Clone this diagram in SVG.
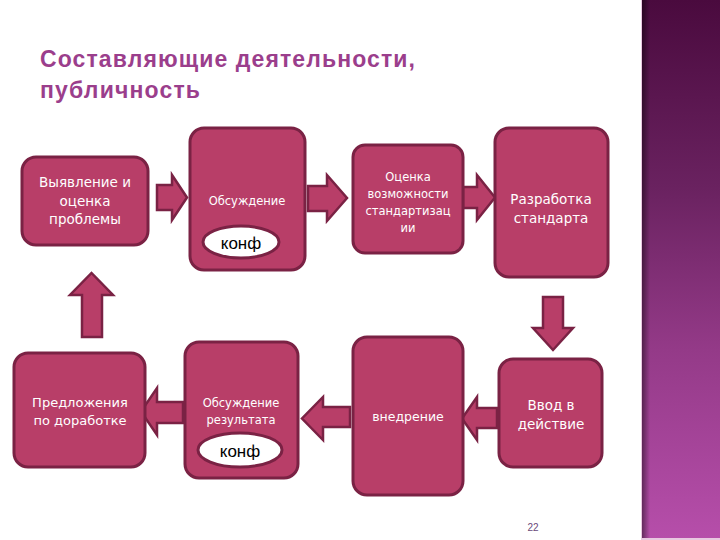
<svg xmlns="http://www.w3.org/2000/svg" width="720" height="540" viewBox="0 0 720 540">
<defs>
<linearGradient id="bar" x1="0" y1="0" x2="0" y2="1">
<stop offset="0" stop-color="#4a0a3e"/>
<stop offset="0.35" stop-color="#6a2260"/>
<stop offset="0.65" stop-color="#943a88"/>
<stop offset="1" stop-color="#b64eaa"/>
</linearGradient>
<linearGradient id="shadow" x1="0" y1="0" x2="1" y2="0">
<stop offset="0" stop-color="#000" stop-opacity="0.45"/>
<stop offset="1" stop-color="#000" stop-opacity="0"/>
</linearGradient>
<style>
.box{fill:#b83e68;stroke:#7a2244;stroke-width:3}
.arr{fill:#b83e68;stroke:#7a2244;stroke-width:2.5;stroke-linejoin:miter}
.ell{fill:#ffffff;stroke:#7a2244;stroke-width:3}
.t{font-family:"DejaVu Sans","Noto Sans",sans-serif;font-weight:normal;fill:#ffffff;text-anchor:middle}
.k{font-family:"Liberation Sans",Arial,sans-serif;font-weight:normal;fill:#000000;text-anchor:middle;font-size:17px}
.title{font-family:"Liberation Sans",Arial,sans-serif;font-weight:bold;fill:#9b3e8c;font-size:23px}
</style>
</defs>
<rect x="0" y="0" width="720" height="540" fill="#ffffff"/>
<rect x="641" y="0" width="79" height="540" fill="#e8c8e0"/>
<rect x="642" y="0" width="78" height="538" fill="url(#bar)"/>
<rect x="642" y="0" width="8" height="538" fill="url(#shadow)"/>

<g id="title">
<text class="title" x="40" y="67" textLength="375" lengthAdjust="spacing">Составляющие деятельности,</text>
<text class="title" x="40" y="98" textLength="160" lengthAdjust="spacing">публичность</text>
</g>

<g id="connectors">
<polygon class="arr" points="157,185 172,185 172,175 187,197.5 172,220 172,210 157,210"/>
<polygon class="arr" points="308,186 327,186 327,175 347,198 327,221 327,211 308,211"/>
<polygon class="arr" points="463,187 477,187 477,175 495,197.5 477,220 477,208 463,208"/>
<polygon class="arr" points="543,297 563,297 563,328 573,328 553,350 533,328 543,328"/>
<polygon class="arr" points="497,408 477,408 477,397 462,418.5 477,440 477,428 497,428"/>
<polygon class="arr" points="350,407 323,407 323,397 302,418.5 323,440 323,427 350,427"/>
<polygon class="arr" points="183,402 157,402 157,388 141,411.5 157,435 157,423 183,423"/>
<polygon class="arr" points="82,337 82,295 70,295 91.5,273 113,295 102,295 102,337"/>
</g>

<g id="n1">
<rect class="box" x="22" y="157" width="126" height="88" rx="14"/>
<text class="t" font-size="13.5" font-weight="bold"><tspan x="85" y="187">Выявление и</tspan><tspan x="85" y="206">оценка</tspan><tspan x="85" y="224">проблемы</tspan></text>
</g>
<g id="n2">
<rect class="box" x="190" y="128" width="115" height="142" rx="14"/>
<text class="t" font-size="11.5" x="247" y="205">Обсуждение</text>
<ellipse class="ell" cx="241" cy="242" rx="38" ry="16"/>
<text class="k" x="241" y="249">конф</text>
</g>
<g id="n3">
<rect class="box" x="353" y="145" width="110" height="108" rx="12"/>
<text class="t" font-size="11.5"><tspan x="408" y="181">Оценка</tspan><tspan x="408" y="198">возможности</tspan><tspan x="408" y="215">стандартизац</tspan><tspan x="408" y="232">ии</tspan></text>
</g>
<g id="n4">
<rect class="box" x="495" y="128" width="113" height="149" rx="14"/>
<text class="t" font-size="13.5"><tspan x="551" y="204">Разработка</tspan><tspan x="551" y="223">стандарта</tspan></text>
</g>
<g id="n5">
<rect class="box" x="499" y="359" width="103" height="108" rx="14"/>
<text class="t" font-size="13.5"><tspan x="551" y="410">Ввод в</tspan><tspan x="551" y="429">действие</tspan></text>
</g>
<g id="n6">
<rect class="box" x="353" y="337" width="110" height="158" rx="14"/>
<text class="t" font-size="12.5" x="408" y="421">внедрение</text>
</g>
<g id="n7">
<rect class="box" x="185" y="342" width="113" height="136" rx="14"/>
<text class="t" font-size="11.5"><tspan x="241" y="407">Обсуждение</tspan><tspan x="241" y="424">результата</tspan></text>
<ellipse class="ell" cx="240" cy="450" rx="42" ry="17"/>
<text class="k" x="240" y="457">конф</text>
</g>
<g id="n8">
<rect class="box" x="14" y="353" width="131" height="114" rx="14"/>
<text class="t" font-size="13"><tspan x="80" y="407">Предложения</tspan><tspan x="80" y="425">по доработке</tspan></text>
</g>

<text x="533" y="531" font-family="Liberation Sans,Arial,sans-serif" font-size="10" fill="#6a4a7a" text-anchor="middle">22</text>
</svg>
